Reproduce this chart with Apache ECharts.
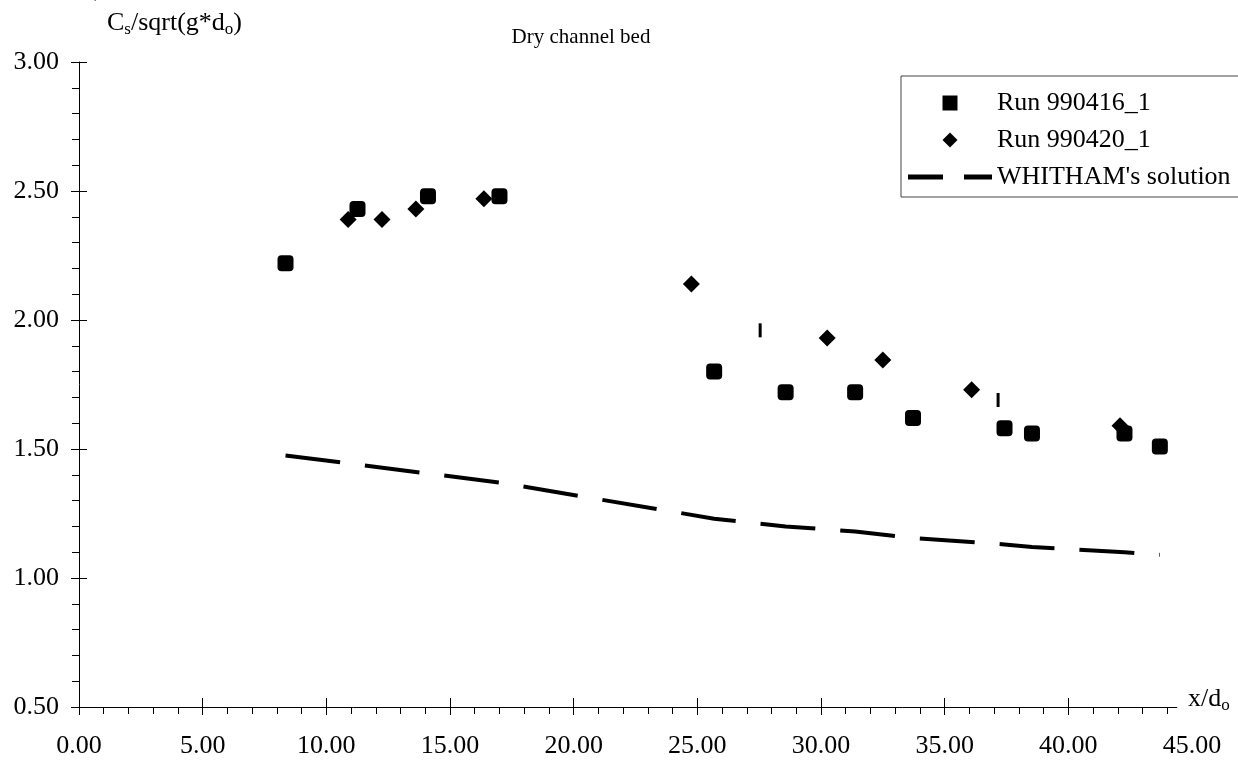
<!DOCTYPE html>
<html>
<head>
<meta charset="utf-8">
<title>Dry channel bed</title>
<script src="https://cdn.jsdelivr.net/npm/echarts@6/dist/echarts.min.js"></script>
<style>
  html, body { margin: 0; padding: 0; background: #fff; }
  #chart { width: 1238px; height: 760px; }
</style>
</head>
<body>
<div id="chart"></div>
<script type="text/javascript">
// values
var run416X = [8.35, 11.26, 14.11, 17.00, 25.68, 28.57, 31.38, 33.72, 37.42, 38.53, 42.27, 43.70];
var run416Y = [2.22, 2.43, 2.48, 2.48, 1.80, 1.72, 1.72, 1.62, 1.58, 1.56, 1.56, 1.51];
var run420X = [10.88, 12.25, 13.62, 16.37, 24.76, 30.25, 32.50, 36.09, 42.09];
var run420Y = [2.39, 2.39, 2.43, 2.47, 2.14, 1.93, 1.845, 1.73, 1.59];
var tickX = [27.54, 37.16];
var tickY = [1.96, 1.69];
var whithamX = [8.35, 11.26, 14.11, 17.00, 25.68, 28.57, 31.38, 33.72, 37.42, 38.53, 42.27, 43.70];
var whithamY = [1.475, 1.44, 1.405, 1.37, 1.23, 1.20, 1.18, 1.155, 1.13, 1.12, 1.10, 1.09];
var legendNames = ['Run 990416_1', 'Run 990420_1', "WHITHAM's solution"];
var xMajorTicks = [0, 5, 10, 15, 20, 25, 30, 35, 40];
var xAxisEnd = 44.4;   // the drawn x axis stops short of the 45.00 label

function pairs(xs, ys) {
    var out = [];
    for (var i = 0; i < xs.length; i++) out.push([xs[i], ys[i]]);
    return out;
}

var FONT = 'Liberation Serif';
var myChart = echarts.init(document.getElementById('chart'));

var option = {
    animation: false,
    backgroundColor: '#fff',
    textStyle: { fontFamily: FONT, color: '#000' },
    grid: { left: 79, right: 46, top: 62, bottom: 53 },
    legend: {
        data: [
            { name: legendNames[0], icon: 'path://M0,0h10v10h-10z' },
            { name: legendNames[1], icon: 'path://M5,0L10,5L5,10L0,5z' },
            { name: legendNames[2], icon: 'path://M0,0h35v5h-35zM56,0h28v5h-28z' }
        ],
        orient: 'vertical',
        left: 901,
        top: 76,
        padding: [14, 10, 7, 7],
        itemGap: 11,
        itemWidth: 84,
        itemHeight: 15,
        symbolKeepAspect: true,
        borderColor: '#444',
        borderWidth: 1,
        itemStyle: { color: '#000' },
        textStyle: { fontFamily: FONT, fontSize: 26, color: '#000', lineHeight: 26 }
    },
    xAxis: [
        {
            type: 'value', min: 0, max: 45, interval: 5,
            axisLine: { show: false },
            axisTick: { show: true, length: 8, customValues: xMajorTicks, lineStyle: { color: '#000' } },
            minorTick: { show: true, splitNumber: 5, length: 7, lineStyle: { color: '#000' } },
            splitLine: { show: false },
            axisLabel: {
                margin: 26, fontFamily: FONT, fontSize: 26, color: '#000',
                formatter: function (v) { return v.toFixed(2); }
            }
        },
        {
            type: 'value', min: 0, max: 45, interval: 5, position: 'bottom',
            axisLine: { show: false },
            axisTick: { show: true, inside: true, length: 9, customValues: xMajorTicks, lineStyle: { color: '#000' } },
            splitLine: { show: false },
            axisLabel: { show: false }
        }
    ],
    yAxis: [
        {
            type: 'value', min: 0.5, max: 3, interval: 0.5,
            axisLine: { show: true, lineStyle: { color: '#000', width: 1 } },
            axisTick: { show: true, length: 8, lineStyle: { color: '#000' } },
            minorTick: { show: true, splitNumber: 5, length: 7, lineStyle: { color: '#000' } },
            splitLine: { show: false },
            axisLabel: {
                margin: 20, fontFamily: FONT, fontSize: 26, color: '#000',
                formatter: function (v) { return v.toFixed(2); }
            }
        },
        {
            type: 'value', min: 0.5, max: 3, interval: 0.5, position: 'left',
            axisLine: { show: false },
            axisTick: { show: true, inside: true, length: 8, lineStyle: { color: '#000' } },
            splitLine: { show: false },
            axisLabel: { show: false }
        }
    ],
    graphic: [
        {
            type: 'text', x: 581, y: 27,
            style: { text: 'Dry channel bed', fontFamily: FONT, fontSize: 21, fill: '#000', textAlign: 'center' }
        },
        {
            type: 'text', left: 107, top: 8,
            style: {
                text: 'C{s|s}/sqrt(g*d{s|o})',
                fontFamily: FONT, fontSize: 26, fill: '#000', lineHeight: 30,
                rich: { s: { fontFamily: FONT, fontSize: 17, verticalAlign: 'bottom', fill: '#000' } }
            }
        },
        {
            type: 'text', left: 1188, top: 684,
            style: {
                text: 'x/d{s|o}',
                fontFamily: FONT, fontSize: 26, fill: '#000', lineHeight: 30,
                rich: { s: { fontFamily: FONT, fontSize: 17, verticalAlign: 'bottom', fill: '#000' } }
            }
        },
        {
            type: 'text', x: 88, y: -20,
            style: { text: '\u221A', fontFamily: FONT, fontSize: 26, fill: '#000' }
        }
    ],
    series: [
        {
            name: legendNames[0], type: 'scatter',
            symbol: 'roundRect', symbolSize: 16,
            itemStyle: { color: '#000', opacity: 1 },
            data: pairs(run416X, run416Y), z: 3
        },
        {
            name: legendNames[1], type: 'scatter',
            symbol: 'diamond', symbolSize: 17,
            itemStyle: { color: '#000', opacity: 1 },
            data: pairs(run420X, run420Y), z: 4
        },
        {
            name: 'marks', type: 'scatter',
            symbol: 'rect', symbolSize: [3, 14],
            itemStyle: { color: '#000', opacity: 1 },
            data: pairs(tickX, tickY)
        },
        {
            name: legendNames[2], type: 'line',
            symbol: 'none', showSymbol: false,
            lineStyle: { color: '#000', width: 4, type: [55, 25], cap: 'butt' },
            itemStyle: { color: '#000' },
            data: pairs(whithamX, whithamY), z: 2,
            markLine: {
                silent: true, symbol: 'none', label: { show: false },
                lineStyle: { color: '#000', width: 1, type: 'solid' },
                emphasis: { disabled: true },
                data: [[{ coord: [0, 0.5] }, { coord: [xAxisEnd, 0.5] }]]
            }
        }
    ]
};

myChart.setOption(option);
</script>
</body>
</html>
